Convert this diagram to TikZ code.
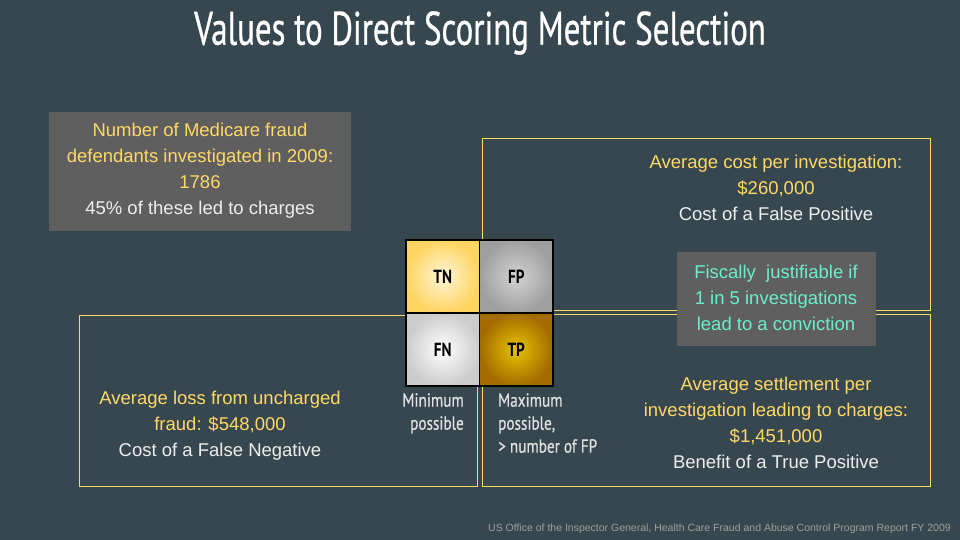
\documentclass[tikz,border=0pt]{standalone}
\usepackage{fontspec}
\setmainfont{Liberation Sans}
\newfontfamily\titlefont[FakeStretch=0.70,FakeBold=0.6]{PT Sans}
\newfontfamily\labfont[FakeStretch=0.80,FakeBold=0.5]{PT Sans}
\newfontfamily\cellfont[FakeStretch=0.80]{PT Sans}
\definecolor{bg}{HTML}{37474F}
\definecolor{gold}{HTML}{FFD966}
\definecolor{boxgray}{HTML}{5F5F5F}
\definecolor{teal}{HTML}{6BEFCB}
\definecolor{wtxt}{HTML}{EEEEEE}
\definecolor{lab}{HTML}{E0E0E0}
\definecolor{foot}{HTML}{9E9E9E}
\tikzset{
  outline/.style={draw=gold, line width=0.9pt},
  graybox/.style={fill=boxgray, draw=none},
  txt/.style={font=\fontsize{18.5}{26}\selectfont, align=center, inner sep=0pt},
  cell/.style={draw=black, line width=1.2pt, minimum width=73.5pt, minimum height=73pt, inner sep=0pt, font=\cellfont\bfseries\fontsize{19}{20}\selectfont},
  lbl/.style={font=\labfont\fontsize{19}{23}\selectfont, text=lab, inner sep=0pt}
}
\begin{document}
\begin{tikzpicture}[x=1pt,y=-1pt]
\useasboundingbox (0,0) rectangle (960,540);
\fill[bg] (0,0) rectangle (960,540);
% title
\node[font=\titlefont\fontsize{47}{50}\selectfont, text=white] (title) at (480,33) {Values to Direct Scoring Metric Selection};
% top-left gray box
\fill[graybox] (49,112) rectangle (351,231);
\node[txt] (info) at (200,171) {\textcolor{gold}{Number of Medicare fraud}\\\textcolor{gold}{defendants investigated in 2009:}\\\textcolor{gold}{1786}\\\textcolor{wtxt}{45\% of these led to charges}};
% outline boxes
\draw[outline] (482,138) rectangle (930,310);
\draw[outline] (79,315) rectangle (477,486);
\draw[outline] (482,314) rectangle (930,486);
\node[txt] (fp) at (776,188) {\textcolor{gold}{Average cost per investigation:}\\\textcolor{gold}{\$260,000}\\\textcolor{wtxt}{Cost of a False Positive}};
\node[txt] (fn) at (220,426) {\textcolor{gold}{Average loss from uncharged}\\\textcolor{gold}{fraud: \$548,000}\\\textcolor{wtxt}{Cost of a False Negative}};
\node[txt] (tp) at (776,423) {\textcolor{gold}{Average settlement per}\\\textcolor{gold}{investigation leading to charges:}\\\textcolor{gold}{\$1,451,000}\\\textcolor{wtxt}{Benefit of a True Positive}};
% teal box
\fill[graybox] (677,252) rectangle (876,346);
\node[txt, text=teal] (fisc) at (776,298) {Fiscally\ \ justifiable if\\1 in 5 investigations\\lead to a conviction};
% matrix
\node[cell, inner color=gold!25!white, outer color=gold!95!orange] (TN) at (442.75,276.5) {TN};
\node[cell, inner color=gray!35!white, outer color=gray!75!white] (FP) at (516.25,276.5) {FP};
\node[cell, inner color=white, outer color=gray!40!white] (FN) at (442.75,349.5) {FN};
\node[cell, inner color=orange!30!yellow!90!black, outer color=black!45!orange!80!yellow] (TP) at (516.25,349.5) {TP};
% labels
\node[lbl, anchor=north east, align=right] (minl) at (464,393) {Minimum\\possible};
\node[lbl, anchor=north west, align=left] (maxl) at (498,393) {Maximum\\possible,\\> number of FP};
% footer
\node[font=\fontsize{10.5}{12}\selectfont, text=foot, anchor=east, inner sep=0pt] (src) at (951,529) {US Office of the Inspector General, Health Care Fraud and Abuse Control Program Report FY 2009};
\end{tikzpicture}
\end{document}
